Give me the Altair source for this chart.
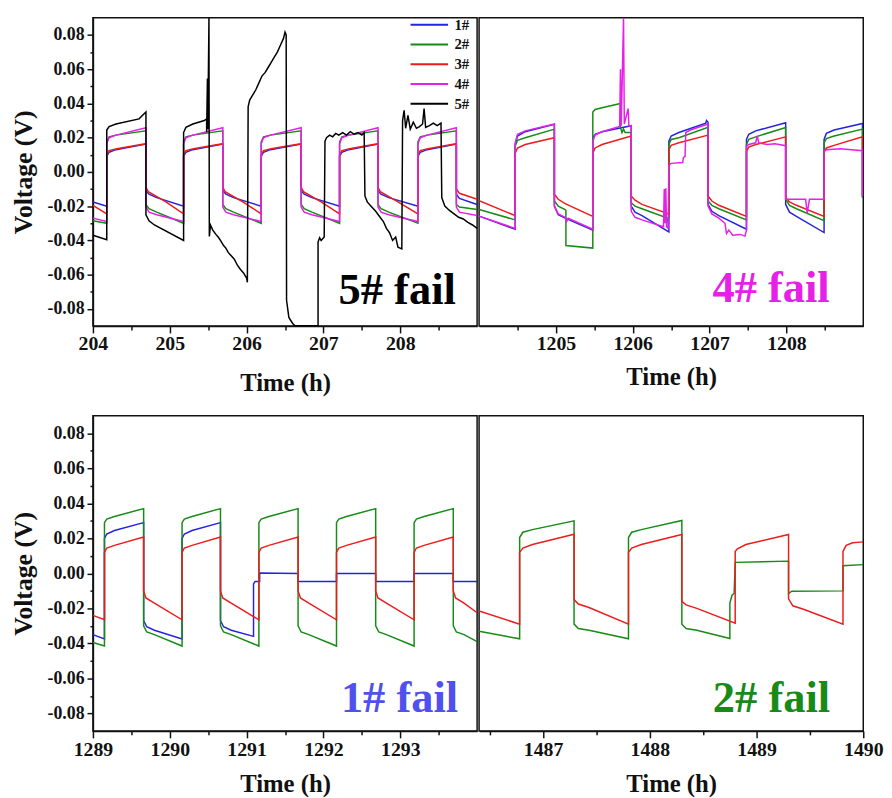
import altair as alt
import pandas as pd

SERIES = ["1#", "2#", "3#", "4#", "5#"]
COLORS = ["#2424dc", "#178a17", "#ec1c1c", "#e620e6", "#000000"]

# ---------------- Top-left window (204-209 h): (time h, voltage V) ----------------
TL_1 = [(204.00,-0.0176),(204.18,-0.0200),(204.18,0.0090),(204.21,0.0115),(204.30,0.0130),(204.69,0.0163),
        (204.69,-0.0110),(204.73,-0.0130),(204.83,-0.0150),(205.18,-0.0200),
        (205.18,0.0090),(205.21,0.0115),(205.30,0.0130),(205.69,0.0163),
        (205.69,-0.0110),(205.73,-0.0130),(205.83,-0.0150),(206.19,-0.0200),
        (206.19,0.0090),(206.22,0.0115),(206.31,0.0130),(206.71,0.0163),
        (206.71,-0.0110),(206.75,-0.0130),(206.85,-0.0150),(207.21,-0.0200),
        (207.21,0.0090),(207.24,0.0115),(207.33,0.0130),(207.71,0.0163),
        (207.71,-0.0110),(207.75,-0.0130),(207.85,-0.0150),(208.23,-0.0200),
        (208.23,0.0090),(208.26,0.0115),(208.35,0.0130),(208.73,0.0163),
        (208.73,-0.0130),(208.77,-0.0155),(209.00,-0.0190)]
TL_2 = [(204.00,-0.0285),(204.18,-0.0300),(204.18,0.0175),(204.21,0.0205),(204.30,0.0215),(204.69,0.0240),
        (204.69,-0.0190),(204.73,-0.0215),(204.83,-0.0235),(205.18,-0.0300),
        (205.18,0.0175),(205.21,0.0205),(205.30,0.0215),(205.69,0.0240),
        (205.69,-0.0190),(205.73,-0.0215),(205.83,-0.0235),(206.19,-0.0300),
        (206.19,0.0175),(206.22,0.0205),(206.31,0.0215),(206.71,0.0240),
        (206.71,-0.0190),(206.75,-0.0215),(206.85,-0.0235),(207.21,-0.0300),
        (207.21,0.0175),(207.24,0.0205),(207.33,0.0215),(207.71,0.0240),
        (207.71,-0.0190),(207.75,-0.0215),(207.85,-0.0235),(208.23,-0.0300),
        (208.23,0.0175),(208.26,0.0205),(208.35,0.0215),(208.73,0.0240),
        (208.73,-0.0190),(208.77,-0.0205),(209.00,-0.0220)]
TL_3 = [(204.00,-0.0195),(204.18,-0.0245),(204.18,0.0100),(204.21,0.0125),(204.31,0.0135),(204.69,0.0165),
        (204.69,-0.0090),(204.72,-0.0115),(204.95,-0.0175),(205.18,-0.0245),
        (205.18,0.0100),(205.21,0.0125),(205.31,0.0135),(205.69,0.0165),
        (205.69,-0.0090),(205.72,-0.0115),(205.95,-0.0175),(206.19,-0.0245),
        (206.19,0.0100),(206.22,0.0125),(206.32,0.0135),(206.71,0.0165),
        (206.71,-0.0090),(206.74,-0.0115),(206.97,-0.0175),(207.21,-0.0245),
        (207.21,0.0100),(207.24,0.0125),(207.34,0.0135),(207.71,0.0165),
        (207.71,-0.0090),(207.74,-0.0115),(207.97,-0.0175),(208.23,-0.0245),
        (208.23,0.0100),(208.26,0.0125),(208.36,0.0135),(208.73,0.0165),
        (208.73,-0.0100),(208.77,-0.0125),(209.00,-0.0160)]
TL_4 = [(204.00,-0.0270),(204.18,-0.0290),(204.18,0.0165),(204.21,0.0200),(204.30,0.0215),(204.69,0.0258),
        (204.69,-0.0205),(204.73,-0.0235),(204.83,-0.0250),(205.18,-0.0290),
        (205.18,0.0165),(205.21,0.0200),(205.30,0.0215),(205.69,0.0258),
        (205.69,-0.0205),(205.73,-0.0235),(205.83,-0.0250),(206.19,-0.0290),
        (206.19,0.0165),(206.22,0.0200),(206.31,0.0215),(206.71,0.0258),
        (206.71,-0.0205),(206.75,-0.0235),(206.85,-0.0250),(207.21,-0.0290),
        (207.21,0.0165),(207.24,0.0200),(207.33,0.0215),(207.71,0.0258),
        (207.71,-0.0205),(207.75,-0.0235),(207.85,-0.0250),(208.23,-0.0290),
        (208.23,0.0165),(208.26,0.0200),(208.35,0.0215),(208.73,0.0258),
        (208.73,-0.0205),(208.77,-0.0235),(209.00,-0.0254)]
TL_5 = [(204.00,-0.0370),(204.18,-0.0396),(204.18,0.0245),(204.21,0.0265),(204.30,0.0280),(204.60,0.0310),(204.69,0.0350),
        (204.69,-0.0250),(204.73,-0.0285),(204.80,-0.0310),(205.18,-0.0400),
        (205.18,0.0230),(205.21,0.0260),(205.30,0.0280),(205.45,0.0300),(205.48,0.0310),(205.48,0.0230),
        (205.49,0.0545),(205.495,0.0250),(205.51,0.0899),(205.515,-0.0377),(205.53,-0.0310),(205.56,-0.0340),
        (205.60,-0.0365),(205.63,-0.0380),(205.66,-0.0400),(205.70,-0.0430),(205.73,-0.0445),(205.76,-0.0470),
        (205.80,-0.0490),(205.84,-0.0510),(205.88,-0.0545),(205.92,-0.0570),(205.96,-0.0590),(206.00,-0.0620),(206.01,-0.0645),
        (206.02,0.0380),(206.04,0.0420),(206.08,0.0450),(206.12,0.0480),(206.16,0.0520),(206.20,0.0560),(206.24,0.0580),
        (206.28,0.0610),(206.32,0.0640),(206.36,0.0670),(206.40,0.0700),(206.44,0.0740),(206.48,0.0780),(206.50,0.0817),
        (206.515,0.0800),(206.52,-0.0750),(206.55,-0.0850),(206.60,-0.0885),(206.63,-0.0899),(206.93,-0.0899),
        (206.93,-0.0410),(206.95,-0.0385),(206.97,-0.0400),(207.01,-0.0380),
        (207.02,0.0180),(207.04,0.0200),(207.08,0.0215),(207.12,0.0205),(207.16,0.0225),(207.20,0.0215),(207.25,0.0230),
        (207.30,0.0215),(207.35,0.0235),(207.40,0.0220),(207.45,0.0230),(207.50,0.0215),(207.53,0.0230),
        (207.54,-0.0140),(207.57,-0.0175),(207.62,-0.0200),(207.68,-0.0230),(207.73,-0.0260),(207.78,-0.0290),
        (207.82,-0.0330),(207.86,-0.0355),(207.90,-0.0400),(207.94,-0.0380),(207.97,-0.0440),(208.02,-0.0450),
        (208.03,0.0300),(208.05,0.0360),(208.07,0.0255),(208.10,0.0330),(208.13,0.0250),(208.17,0.0290),(208.21,0.0255),
        (208.25,0.0265),(208.29,0.0280),(208.31,0.0370),(208.33,0.0260),(208.38,0.0270),(208.43,0.0285),(208.48,0.0270),(208.53,0.0285),
        (208.54,-0.0150),(208.58,-0.0200),(208.64,-0.0225),(208.70,-0.0245),(208.76,-0.0265),(208.82,-0.0275),
        (208.88,-0.0295),(208.94,-0.0310),(209.00,-0.0330)]

# ---------------- Top-right window (1204-1209 h) ----------------
TR_1 = [(1204.00,-0.0258),(1204.47,-0.0335),(1204.47,0.0160),(1204.50,0.0210),(1204.60,0.0235),(1204.98,0.0278),
        (1204.98,-0.0200),(1205.03,-0.0250),(1205.12,-0.0270),(1205.48,-0.0340),
        (1205.48,0.0200),(1205.51,0.0220),(1205.60,0.0235),(1205.98,0.0270),
        (1205.98,-0.0200),(1206.03,-0.0235),(1206.12,-0.0255),(1206.47,-0.0350),
        (1206.47,0.0180),(1206.50,0.0210),(1206.60,0.0230),(1206.95,0.0285),(1206.96,0.0300),(1206.98,0.0290),
        (1206.98,-0.0190),(1207.03,-0.0230),(1207.12,-0.0255),(1207.48,-0.0335),
        (1207.48,0.0190),(1207.51,0.0220),(1207.60,0.0240),(1207.99,0.0287),
        (1207.99,-0.0190),(1208.04,-0.0235),(1208.13,-0.0260),(1208.49,-0.0354),
        (1208.49,0.0190),(1208.52,0.0225),(1208.62,0.0245),(1208.99,0.0283),(1208.99,-0.0150)]
TR_2 = [(1204.00,-0.0220),(1204.47,-0.0280),(1204.47,0.0150),(1204.50,0.0185),(1204.60,0.0200),(1204.98,0.0250),
        (1204.98,-0.0170),(1205.03,-0.0200),(1205.12,-0.0220),(1205.13,-0.0225),(1205.13,-0.0430),(1205.48,-0.0445),
        (1205.48,0.0350),(1205.51,0.0365),(1205.60,0.0375),(1205.84,0.0400),(1205.84,0.0260),(1205.86,0.0230),
        (1205.88,0.0250),(1205.90,0.0230),(1205.98,0.0230),
        (1205.98,-0.0180),(1206.03,-0.0200),(1206.12,-0.0215),(1206.45,-0.0270),(1206.46,-0.0300),(1206.47,-0.0260),
        (1206.47,0.0160),(1206.50,0.0190),(1206.60,0.0200),(1206.98,0.0260),
        (1206.98,-0.0170),(1207.03,-0.0195),(1207.12,-0.0215),(1207.48,-0.0280),
        (1207.48,0.0160),(1207.51,0.0190),(1207.60,0.0205),(1207.99,0.0260),
        (1207.99,-0.0160),(1208.04,-0.0195),(1208.13,-0.0215),(1208.49,-0.0285),
        (1208.49,0.0170),(1208.52,0.0195),(1208.62,0.0210),(1208.99,0.0250),(1208.99,-0.0150)]
TR_3 = [(1204.00,-0.0168),(1204.47,-0.0255),(1204.47,0.0110),(1204.50,0.0140),(1204.60,0.0160),(1204.98,0.0200),
        (1204.98,-0.0130),(1205.03,-0.0160),(1205.12,-0.0185),(1205.48,-0.0260),
        (1205.48,0.0110),(1205.51,0.0140),(1205.60,0.0160),(1205.98,0.0210),
        (1205.98,-0.0140),(1206.03,-0.0165),(1206.12,-0.0190),(1206.47,-0.0245),
        (1206.47,0.0130),(1206.50,0.0155),(1206.60,0.0170),(1206.98,0.0215),
        (1206.98,-0.0140),(1207.03,-0.0170),(1207.12,-0.0195),(1207.48,-0.0260),
        (1207.48,0.0120),(1207.51,0.0145),(1207.60,0.0160),(1207.99,0.0205),
        (1207.99,-0.0150),(1208.04,-0.0175),(1208.13,-0.0195),(1208.49,-0.0260),
        (1208.49,0.0115),(1208.52,0.0140),(1208.62,0.0155),(1208.99,0.0205),(1208.99,-0.0140)]
TR_4 = [(1204.00,-0.0258),(1204.47,-0.0330),(1204.47,0.0170),(1204.50,0.0220),(1204.60,0.0240),(1204.98,0.0280),
        (1204.98,-0.0200),(1205.03,-0.0245),(1205.12,-0.0265),(1205.14,-0.0290),(1205.16,-0.0270),(1205.48,-0.0335),
        (1205.48,0.0180),(1205.51,0.0215),(1205.60,0.0235),(1205.83,0.0265),(1205.84,0.0600),(1205.85,0.0270),
        (1205.88,0.0899),(1205.89,0.0280),(1205.94,0.0370),(1205.95,0.0270),(1205.98,0.0270),
        (1205.98,-0.0230),(1206.03,-0.0265),(1206.12,-0.0280),(1206.40,-0.0320),(1206.41,-0.0100),(1206.42,-0.0300),
        (1206.43,-0.0095),(1206.44,-0.0320),(1206.46,-0.0330),
        (1206.47,0.0040),(1206.50,0.0050),(1206.65,0.0055),(1206.66,0.0085),(1206.68,0.0090),(1206.69,0.0230),
        (1206.75,0.0245),(1206.98,0.0280),
        (1206.98,-0.0200),(1207.03,-0.0245),(1207.12,-0.0270),(1207.20,-0.0300),(1207.22,-0.0360),(1207.25,-0.0340),
        (1207.30,-0.0370),(1207.40,-0.0365),(1207.46,-0.0375),(1207.48,-0.0340),
        (1207.48,0.0150),(1207.51,0.0160),(1207.60,0.0170),(1207.62,0.0210),(1207.64,0.0170),(1207.75,0.0160),
        (1207.85,0.0165),(1207.99,0.0153),
        (1207.99,-0.0160),(1208.25,-0.0160),(1208.27,-0.0240),(1208.30,-0.0160),(1208.49,-0.0160),
        (1208.49,0.0120),(1208.52,0.0130),(1208.70,0.0135),(1208.99,0.0124),(1208.99,-0.0140)]

# ---------------- Bottom-left window (1289-1294 h) ----------------
BL_1 = [(1289.00,-0.0350),(1289.15,-0.0375),(1289.15,0.0200),(1289.18,0.0225),(1289.28,0.0245),(1289.66,0.0290),
        (1289.66,-0.0270),(1289.70,-0.0305),(1289.80,-0.0325),(1290.16,-0.0375),
        (1290.16,0.0200),(1290.19,0.0225),(1290.29,0.0245),(1290.66,0.0290),
        (1290.66,-0.0270),(1290.70,-0.0305),(1290.80,-0.0325),(1291.09,-0.0360),
        (1291.09,-0.0060),(1291.11,-0.0047),(1291.17,-0.0047),(1291.17,0.0002),(1291.67,0.0000),
        (1291.67,-0.0047),(1292.17,-0.0047),(1292.17,0.0000),(1292.68,0.0000),
        (1292.68,-0.0047),(1293.18,-0.0047),(1293.18,0.0000),(1293.69,0.0000),
        (1293.69,-0.0047),(1294.00,-0.0047)]
BL_2 = [(1289.00,-0.0395),(1289.15,-0.0415),(1289.15,0.0290),(1289.18,0.0310),(1289.28,0.0325),(1289.66,0.0370),
        (1289.66,-0.0300),(1289.70,-0.0335),(1289.80,-0.0350),(1290.16,-0.0415),
        (1290.16,0.0290),(1290.19,0.0310),(1290.29,0.0325),(1290.66,0.0370),
        (1290.66,-0.0300),(1290.70,-0.0335),(1290.80,-0.0350),(1291.16,-0.0415),
        (1291.16,0.0290),(1291.19,0.0310),(1291.29,0.0325),(1291.67,0.0370),
        (1291.67,-0.0300),(1291.71,-0.0335),(1291.81,-0.0350),(1292.17,-0.0415),
        (1292.17,0.0290),(1292.20,0.0310),(1292.30,0.0325),(1292.68,0.0370),
        (1292.68,-0.0300),(1292.72,-0.0335),(1292.82,-0.0350),(1293.18,-0.0415),
        (1293.18,0.0290),(1293.21,0.0310),(1293.31,0.0325),(1293.69,0.0370),
        (1293.69,-0.0300),(1293.73,-0.0335),(1293.83,-0.0350),(1294.00,-0.0390)]
BL_3 = [(1289.00,-0.0240),(1289.15,-0.0265),(1289.15,0.0120),(1289.18,0.0145),(1289.28,0.0160),(1289.66,0.0208),
        (1289.66,-0.0100),(1289.69,-0.0140),(1289.80,-0.0170),(1290.16,-0.0265),
        (1290.16,0.0120),(1290.19,0.0145),(1290.29,0.0160),(1290.66,0.0208),
        (1290.66,-0.0100),(1290.69,-0.0140),(1290.80,-0.0170),(1291.16,-0.0265),
        (1291.16,0.0120),(1291.19,0.0145),(1291.29,0.0160),(1291.67,0.0208),
        (1291.67,-0.0100),(1291.70,-0.0140),(1291.81,-0.0170),(1292.17,-0.0265),
        (1292.17,0.0120),(1292.20,0.0145),(1292.30,0.0160),(1292.68,0.0208),
        (1292.68,-0.0100),(1292.71,-0.0140),(1292.82,-0.0170),(1293.18,-0.0265),
        (1293.18,0.0120),(1293.21,0.0145),(1293.31,0.0160),(1293.69,0.0208),
        (1293.69,-0.0100),(1293.72,-0.0140),(1293.83,-0.0170),(1294.00,-0.0225)]

# ---------------- Bottom-right window (1486.4-1490 h) ----------------
BR_2 = [(1486.40,-0.0330),(1486.78,-0.0374),(1486.78,0.0205),(1486.81,0.0235),(1486.90,0.0250),(1487.29,0.0300),
        (1487.29,-0.0290),(1487.33,-0.0315),(1487.43,-0.0325),(1487.80,-0.0374),
        (1487.80,0.0205),(1487.83,0.0235),(1487.92,0.0250),(1488.30,0.0302),
        (1488.30,-0.0290),(1488.34,-0.0315),(1488.44,-0.0325),(1488.75,-0.0372),
        (1488.75,-0.0170),(1488.77,-0.0125),(1488.79,-0.0115),(1488.80,0.0063),(1489.30,0.0070),
        (1489.30,-0.0115),(1489.33,-0.0102),(1489.81,-0.0100),
        (1489.81,0.0044),(1490.00,0.0050)]
BR_3 = [(1486.40,-0.0215),(1486.78,-0.0290),(1486.78,0.0120),(1486.81,0.0145),(1486.90,0.0165),(1487.29,0.0224),
        (1487.29,-0.0150),(1487.33,-0.0175),(1487.43,-0.0195),(1487.80,-0.0290),
        (1487.80,0.0120),(1487.83,0.0145),(1487.92,0.0165),(1488.30,0.0222),
        (1488.30,-0.0160),(1488.34,-0.0180),(1488.44,-0.0200),(1488.80,-0.0284),
        (1488.80,0.0125),(1488.82,0.0140),(1488.90,0.0165),(1489.30,0.0222),
        (1489.30,-0.0145),(1489.34,-0.0185),(1489.44,-0.0205),(1489.81,-0.0290),
        (1489.81,0.0125),(1489.84,0.0160),(1489.90,0.0175),(1490.00,0.0180)]

# x-axis tick positions (integers labelled, halves as minor ticks)
TL_TICKS = [204.0, 204.5, 205.0, 205.5, 206.0, 206.5, 207.0, 207.5, 208.0, 208.5]
TR_TICKS = [1204.5, 1205.0, 1205.5, 1206.0, 1206.5, 1207.0, 1207.5, 1208.0, 1208.5]
BL_TICKS = [1289.0, 1289.5, 1290.0, 1290.5, 1291.0, 1291.5, 1292.0, 1292.5, 1293.0, 1293.5]
BR_TICKS = [1486.5, 1487.0, 1487.5, 1488.0, 1488.5, 1489.0, 1489.5, 1490.0]
Y_TICKS = [-0.08, -0.07, -0.06, -0.05, -0.04, -0.03, -0.02, -0.01, 0.0,
           0.01, 0.02, 0.03, 0.04, 0.05, 0.06, 0.07, 0.08]

# panel annotations: (text, time, voltage, colour)
ANN_TL = ("5# fail", 207.96, -0.069, "#000000")
ANN_TR = ("4# fail", 1207.80, -0.068, "#e620e6")
ANN_BL = ("1# fail", 1292.99, -0.0713, "#5050ee")
ANN_BR = ("2# fail", 1489.14, -0.0713, "#178a17")

FONT = "Liberation Serif"
W = 389


def to_df(named):
    rows = []
    for name, pts in named:
        for i, (t, v) in enumerate(pts):
            rows.append({"t": t, "v": v, "s": name, "i": i})
    return pd.DataFrame(rows)


def panel(named, xdom, xticks, ann, height, show_y, show_legend, title_pad, label_pad):
    df = to_df(named)
    x_axis = alt.Axis(
        values=xticks,
        labelExpr="datum.value % 1 == 0 ? format(datum.value, 'd') : ''",
        tickSize={"condition": {"test": "datum.value % 1 == 0", "value": 7}, "value": 4},
        labelFontSize=20, labelPadding=label_pad, title="Time (h)", titleFontSize=25,
        titlePadding=title_pad, labelFlush=False, labelOverlap=False,
    )
    if show_y:
        y_axis = alt.Axis(
            values=Y_TICKS,
            labelExpr="abs(round(datum.value*100)) % 2 == 0 ? replace(format(datum.value, '.2f'), '\u2212', '-') : ''",
            tickSize={"condition": {"test": "abs(round(datum.value*100)) % 2 == 0", "value": 6}, "value": 3},
            labelFontSize=18, labelPadding=3, title="Voltage (V)", titleFontSize=26,
            titlePadding=11, labelOverlap=False,
        )
    else:
        y_axis = None
    X = alt.X("t:Q", scale=alt.Scale(domain=xdom, nice=False, zero=False), axis=x_axis)
    Y = alt.Y("v:Q", scale=alt.Scale(domain=[-0.09, 0.09], nice=False, zero=False), axis=y_axis)
    if show_legend:
        legend = alt.Legend(
            orient="none", legendX=343, legendY=-2, title=None, symbolType="M-4,0H1",
            symbolSize=231, symbolStrokeWidth=2, labelFont=FONT, labelFontWeight="bold",
            labelFontSize=15, labelColor="#111", labelOffset=5, rowPadding=3, padding=0,
        )
    else:
        legend = None
    color = alt.Color("s:N", scale=alt.Scale(domain=SERIES, range=COLORS), legend=legend)
    lines = alt.Chart(df).mark_line(strokeWidth=1.5, clip=True).encode(
        x=X, y=Y, color=color, order="i:Q"
    )
    adf = pd.DataFrame([{"label": ann[0], "t": ann[1], "v": ann[2]}])
    text = alt.Chart(adf).mark_text(
        font=FONT, fontWeight="bold", fontSize=45, align="center", baseline="middle"
    ).encode(x=X, y=Y, text="label:N", color=alt.value(ann[3]))
    return alt.layer(lines, text).properties(width=W, height=height)


tl = panel([("1#", TL_1), ("2#", TL_2), ("3#", TL_3), ("4#", TL_4), ("5#", TL_5)],
           [204, 209], TL_TICKS, ANN_TL, 312, True, True, 17, 1)
tr = panel([("1#", TR_1), ("2#", TR_2), ("3#", TR_3), ("4#", TR_4)],
           [1204, 1209], TR_TICKS, ANN_TR, 312, False, False, 11, 1)
bl = panel([("1#", BL_1), ("2#", BL_2), ("3#", BL_3)],
           [1289, 1294], BL_TICKS, ANN_BL, 319, True, False, 12, 2)
br = panel([("2#", BR_2), ("3#", BR_3)],
           [1486.4, 1490], BR_TICKS, ANN_BR, 319, False, False, 12, 2)

top = alt.hconcat(tl, tr, spacing=0).resolve_scale(color="independent")
bottom = alt.hconcat(bl, br, spacing=0).resolve_scale(color="independent")

chart = (
    alt.vconcat(top, bottom, spacing=19)
    .resolve_scale(color="independent")
    .properties(padding={"left": 1, "top": 2, "right": 0, "bottom": 0}, background="white")
    .configure_view(stroke="#111", strokeWidth=1.5)
    .configure_axis(
        labelFont=FONT, labelFontWeight="bold", labelColor="#111",
        titleFont=FONT, titleFontWeight="bold", titleColor="#111",
        domainColor="#111", domainWidth=1.5, tickColor="#111", tickWidth=1.5, grid=False,
    )
)

chart.save("out.html", embed_options={"renderer": "svg", "actions": False})
